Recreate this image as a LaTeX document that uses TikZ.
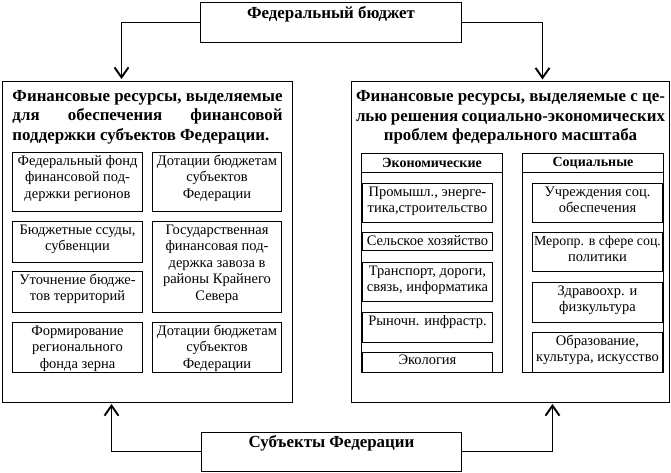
\documentclass[tikz,border=0pt]{standalone}
\usepackage{fontspec}
\setmainfont{Liberation Serif}
\usetikzlibrary{arrows.meta}
\newcommand{\fsHead}{\fontsize{16.9pt}{19.5pt}\selectfont\bfseries}
\newcommand{\fsCol}{\fontsize{14pt}{16.5pt}\selectfont\bfseries}
\newcommand{\fsItem}{\fontsize{14.5pt}{16.5pt}\selectfont}
\newcommand{\boxText}[4][12.5pt]{\parbox[c][#3][t]{#2}{\centering\rule{0pt}{#1}#4}}
\newcommand{\spreadLine}[1]{\makebox[\hsize][s]{#1}}
\begin{document}
\begin{tikzpicture}[x=1pt, y=-1pt,
        panelBox/.style={shape=rectangle, draw=black, line width=1pt, inner ysep=0pt, anchor=north west, font=\fsHead},
        itemBox/.style={shape=rectangle, draw=black, line width=1pt, inner sep=0pt, font=\fsItem},
        colFrame/.style={shape=rectangle, draw=black, line width=1pt, minimum width=141pt, minimum height=219pt, anchor=north west},
        colHead/.style={shape=rectangle, draw=black, line width=1pt, inner sep=0pt, minimum width=141pt, minimum height=19pt, anchor=north west, font=\fsCol},
        flowArrow/.style={-{Straight Barb[length=10pt, width=14pt, line width=1.9pt]}, line width=1pt, shorten >= 1.5pt}]
            \useasboundingbox (0,0) rectangle (671,472);
            \node (nFedBudget) [ itemBox, font=\fsHead, anchor=north west ] at (200,2) {\boxText[15.5pt]{261pt}{39.5pt}{Федеральный бюджет}};
            \node (nLeftPanel) [ panelBox, inner xsep=10pt ] at (2,80.5) {\parbox[c][321pt][t]{270pt}{\rule{0pt}{20pt}\spreadLine{Финансовые ресурсы, выделяемые}\\ \spreadLine{для обеспечения финансовой}\\ поддержки субъектов Федерации.}};
            \node (nRightPanel) [ panelBox, inner xsep=4.5pt ] at (351,81) {\parbox[c][320.5pt][t]{309pt}{\centering\rule{0pt}{20pt}\spreadLine{Финансовые ресурсы, выделяемые с це-}\\ \spreadLine{лью решения социально-экономических}\\ проблем федерального масштаба}};
            \node (nFund) [ itemBox, anchor=north west ] at (12,152) {\boxText{130pt}{59pt}{Федеральный фонд\\финансовой под-\\держки регионов}};
            \node (nGrants) [ itemBox, right of = nFund, node distance = 139.5pt ] {\boxText{129pt}{59pt}{Дотации бюджетам\\субъектов\\Федерации}};
            \node (nLoans) [ itemBox, below of = nFund, node distance = 60pt ] {\boxText{130pt}{41pt}{Бюджетные ссуды,\\субвенции}};
            \node (nRefine) [ itemBox, below of = nLoans, node distance = 50pt ] {\boxText{130pt}{41pt}{Уточнение бюдже-\\тов территорий}};
            \node (nGrain) [ itemBox, below of = nRefine, node distance = 55.5pt ] {\boxText{130pt}{50pt}{Формирование\\регионального\\фонда зерна}};
            \node (nNorth) [ itemBox, below of = nGrants, node distance = 85pt ] {\boxText{129pt}{91pt}{Государственная\\финансовая под-\\держка завоза в\\районы Крайнего\\Севера}};
            \node (nGrantsB) [ itemBox, right of = nGrain, node distance = 139.5pt ] {\boxText{129pt}{50pt}{Дотации бюджетам\\субъектов\\Федерации}};
            \node (nEconCol) [ colFrame ] at (361,153) {};
            \node (nEconHead) [ colHead ] at (361,153) {Экономические};
            \node (nSocCol) [ colFrame ] at (522,153) {};
            \node (nSocHead) [ colHead ] at (522,153) {Социальные};
            \node (nIndustry) [ itemBox, anchor=north west ] at (362,183) {\boxText{130pt}{38.5pt}{Промышл., энерге-\\тика,строительство}};
            \node (nAgri) [ itemBox, below of = nIndustry, node distance = 38.75pt ] {\boxText{130pt}{18pt}{Сельское хозяйство}};
            \node (nTransport) [ itemBox, below of = nAgri, node distance = 40.5pt ] {\boxText{130pt}{39pt}{Транспорт, дороги,\\связь, информатика}};
            \node (nMarket) [ itemBox, below of = nTransport, node distance = 45.5pt ] {\boxText{130pt}{30pt}{Рыночн. инфрастр.}};
            \node (nEcology) [ itemBox, below of = nMarket, node distance = 35pt ] {\boxText[12pt]{130pt}{20pt}{Экология}};
            \node (nSocSec) [ itemBox, anchor=north west ] at (532,183) {\boxText{130pt}{39pt}{Учреждения соц.\\обеспечения}};
            \node (nPolicy) [ itemBox, below of = nSocSec, node distance = 49pt ] {\boxText{130pt}{39pt}{\makebox[\hsize]{\fontsize{13.9pt}{16.5pt}\selectfont Меропр. в сфере соц.}\\политики}};
            \node (nHealth) [ itemBox, below of = nPolicy, node distance = 50.5pt ] {\boxText{130pt}{40pt}{Здравоохр. и\\физкультура}};
            \node (nCulture) [ itemBox, below of = nHealth, node distance = 50pt ] {\boxText{130pt}{40pt}{Образование,\\культура, искусство}};
            \node (nSubjects) [ itemBox, font=\fsHead, anchor=north west ] at (201,431.5) {\boxText[15.5pt]{260pt}{39pt}{Субъекты Федерации}};
            \draw [ flowArrow ] (nFedBudget.west) -| ([xshift=-26pt]nLeftPanel.north);
            \draw [ flowArrow ] (nFedBudget.east) -| ([xshift=32pt]nRightPanel.north);
            \draw [ flowArrow ] (nSubjects.west) -| ([xshift=-36pt]nLeftPanel.south);
            \draw [ flowArrow ] (nSubjects.east) -| ([xshift=42pt]nRightPanel.south);
\end{tikzpicture}
\end{document}
